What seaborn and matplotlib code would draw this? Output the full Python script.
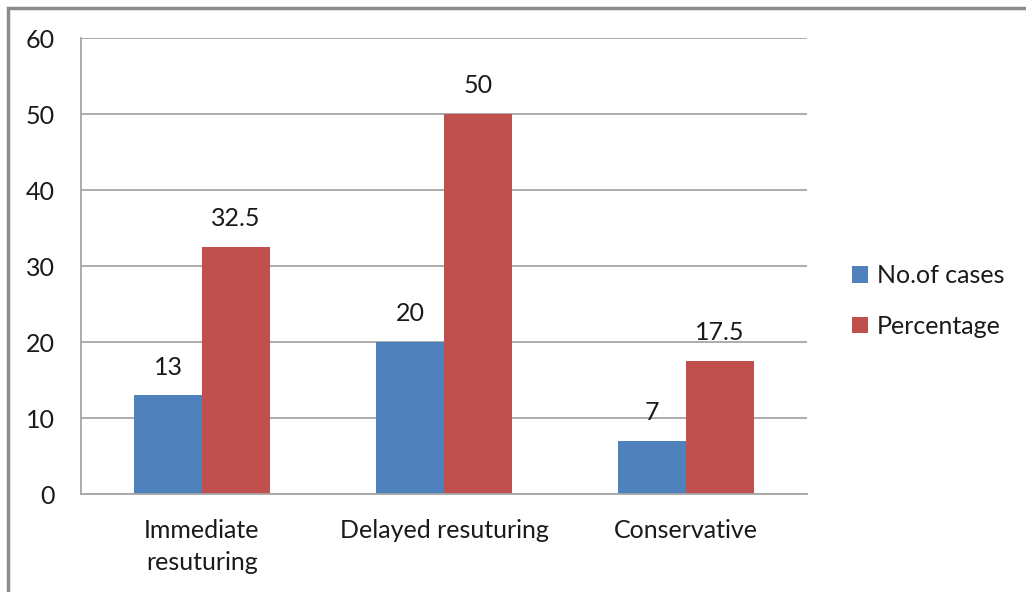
import matplotlib
matplotlib.use('Agg')
import matplotlib.pyplot as plt
from matplotlib.patches import Rectangle
import pandas as pd
import seaborn as sns

categories = ['Immediate\nresuturing', 'Delayed resuturing', 'Conservative']
series = ['No.of cases', 'Percentage']
cases = [13, 20, 7]
percentage = [32.5, 50, 17.5]
colors = ['#4F81BD', '#C0504D']

df = pd.DataFrame({
    'category': categories * 2,
    'series': [series[0]] * 3 + [series[1]] * 3,
    'value': cases + percentage,
})

sns.set_style('white')
plt.rcParams['font.family'] = ['Lato', 'DejaVu Sans']
FS = 18
TXT = '#1a1a1a'

fig = plt.figure(figsize=(10.26, 5.92), dpi=100)
ax = fig.add_axes([81/1026, 1 - 494/592, 726/1026, 456/592])

sns.barplot(data=df, x='category', y='value', hue='series', order=categories,
            hue_order=series, palette=colors, width=0.562, saturation=1,
            errorbar=None, linewidth=0, ax=ax)

# value labels above the bars
for cont in ax.containers:
    ax.bar_label(cont, labels=[f'{v:g}' for v in cont.datavalues],
                 padding=12, fontsize=FS, color=TXT)

ax.set_ylim(0, 60)
ax.set_xlim(-0.5, 2.5)
ax.set_yticks(range(0, 61, 10))
ax.yaxis.grid(True, color='#a6a6a6', linewidth=1.3)
ax.set_axisbelow(True)
ax.set_xlabel('')
ax.set_ylabel('')

for side in ['top', 'right']:
    ax.spines[side].set_visible(False)
for side in ['left', 'bottom']:
    ax.spines[side].set_color('#a6a6a6')
    ax.spines[side].set_linewidth(1.3)

# tick marks between the categories, like the original
ax.set_xticks([-0.5, 0.5, 1.5, 2.5])
ax.set_xticklabels([])
ax.set_xticks([0, 1, 2], minor=True)
ax.set_xticklabels(categories, minor=True, fontsize=FS, color=TXT, linespacing=1.45)
ax.tick_params(axis='x', which='major', length=8, width=1.3, color='#a6a6a6', direction='out')
ax.tick_params(axis='x', which='minor', length=0, pad=18)
ax.tick_params(axis='y', length=8, width=1.3, color='#a6a6a6', direction='out',
               labelsize=FS, labelcolor=TXT, pad=11)

leg = ax.legend(loc='center left', bbox_to_anchor=(1.062, 0.423), frameon=False,
                fontsize=FS, handlelength=0.65, handleheight=0.65, borderpad=0,
                borderaxespad=0, handletextpad=0.35, labelspacing=1.1)
for t in leg.get_texts():
    t.set_color(TXT)

# outer chart frame (top and left edges visible)
fig.patches.append(Rectangle((8/1026, -0.1), 1.2, 1 - 8/592 + 0.1,
                             transform=fig.transFigure, fill=False,
                             edgecolor='#8c8c8c', linewidth=2.5))

fig.savefig('out.png', dpi=100)
